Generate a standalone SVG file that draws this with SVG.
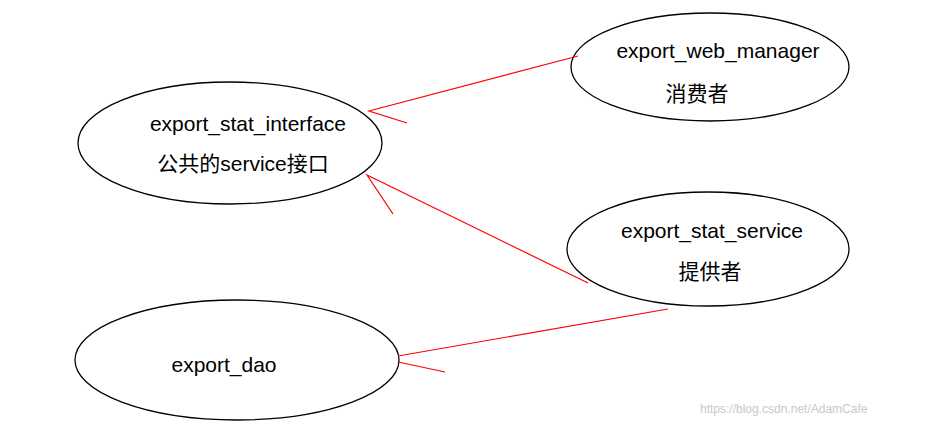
<svg xmlns="http://www.w3.org/2000/svg" width="929" height="426" viewBox="0 0 929 426">
<style>
.n{fill:#fff;stroke:#000;stroke-width:1.3}
.t{font-family:"Liberation Sans","Noto Sans CJK SC",sans-serif;font-size:21px;fill:#000;text-anchor:middle}
.c{stroke:#f00;stroke-width:1.2;fill:none}
</style>
<rect width="929" height="426" fill="#fff"/>
<g id="interface"><ellipse class="n" cx="230" cy="143" rx="152" ry="61"/><text class="t" x="248" y="131">export_stat_interface</text><text class="t" x="243" y="171">公共的service接口</text></g>
<g id="web_manager"><ellipse class="n" cx="710" cy="67" rx="139" ry="54"/><text class="t" x="718" y="58">export_web_manager</text><text class="t" x="697" y="101">消费者</text></g>
<g id="stat_service"><ellipse class="n" cx="708" cy="249" rx="141" ry="57"/><text class="t" x="712" y="238">export_stat_service</text><text class="t" x="710" y="279">提供者</text></g>
<g id="dao"><ellipse class="n" cx="237" cy="360" rx="162" ry="60"/><text class="t" x="224" y="372">export_dao</text></g>
<g id="connectors">
<path class="c" d="M578,56 L369,111 L407,123"/>
<path class="c" d="M588,283 L367,175 L393,214"/>
<path class="c" d="M668,309 L398,356 M398,362 L445,372"/>
</g>
<text x="700" y="413" style="font-family:'Liberation Sans',sans-serif;font-size:12px;fill:#c8c8c8">https://blog.csdn.net/AdamCafe</text>
</svg>
